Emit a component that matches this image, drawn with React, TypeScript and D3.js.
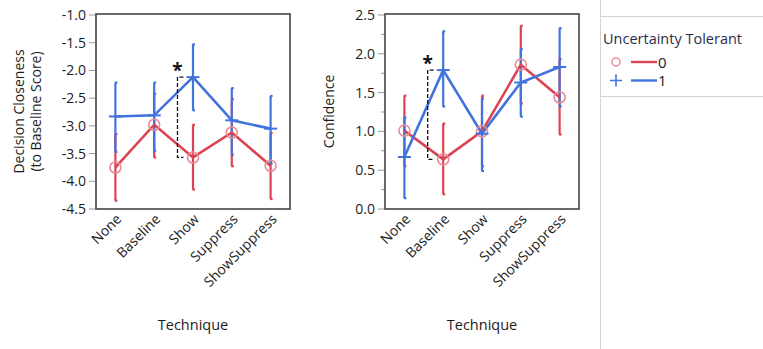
import React from "react";
import * as d3 from "d3";

// categories on the x axis
const techniques = ["None", "Baseline", "Show", "Suppress", "ShowSuppress"];

// Decision closeness (to baseline score), group 0 / group 1
const closenessMean0 = [-3.75, -2.98, -3.57, -3.12, -3.72];
const closenessLow0 = [-4.35, -3.57, -4.15, -3.73, -4.32];
const closenessHigh0 = [-3.15, -2.42, -2.98, -2.52, -3.13];
const closenessMean1 = [-2.83, -2.81, -2.12, -2.9, -3.05];
const closenessLow1 = [-3.47, -3.45, -2.72, -3.52, -3.68];
const closenessHigh1 = [-2.22, -2.22, -1.53, -2.32, -2.46];

// Confidence, group 0 / group 1
const confidenceMean0 = [1.01, 0.64, 1.0, 1.86, 1.44];
const confidenceLow0 = [0.55, 0.19, 0.55, 1.36, 0.96];
const confidenceHigh0 = [1.46, 1.1, 1.46, 2.36, 1.93];
const confidenceMean1 = [0.67, 1.79, 0.97, 1.63, 1.83];
const confidenceLow1 = [0.14, 1.32, 0.49, 1.19, 1.32];
const confidenceHigh1 = [1.18, 2.29, 1.42, 2.06, 2.33];

const closenessTicks = [-1.0, -1.5, -2.0, -2.5, -3.0, -3.5, -4.0, -4.5];
const confidenceTicks = [0.0, 0.5, 1.0, 1.5, 2.0, 2.5];
const confidenceMinor = [0.25, 0.75, 1.25, 1.75, 2.25];

const legendTitle = "Uncertainty Tolerant";
const groups = ["0", "1"];

const RED = "#dc4352";
const RED_LIGHT = "#ec8a93";
const BLUE = "#4173de";
const FONT = "'Open Sans', 'Noto Sans', sans-serif";
const TEXT = "#1c1c1c";

type Series = { mean: number[]; low: number[]; high: number[] };

function Panel({ left, domain, ticks, minor, titleLines, titleX, s0, s1, bracketIdx }: {
  left: number;
  domain: [number, number];
  ticks: number[];
  minor: number[];
  titleLines: string[];
  titleX: number;
  s0: Series;
  s1: Series;
  bracketIdx: number;
}) {
  const top = 14;
  const bottom = 209;
  const w = 194;

  const x = d3.scaleBand().domain(techniques).range([left, left + w]).padding(0);
  const y = d3.scaleLinear().domain(domain).range([bottom, top + 1]);
  const cx = (i: number) => (x(techniques[i]) as number) + x.bandwidth() / 2;

  const line = d3
    .line<number>()
    .x((_, i) => cx(i))
    .y((d) => y(d));

  const bars = (s: Series, color: string) =>
    s.mean.map((_, i) => {
      const xx = cx(i);
      return (
        <g key={i} stroke={color} strokeWidth={2.2}>
          <line x1={xx} x2={xx} y1={y(s.low[i])} y2={y(s.high[i])} />
          <line x1={xx - 0.5} x2={xx + 2} y1={y(s.low[i])} y2={y(s.low[i])} />
          <line x1={xx - 0.5} x2={xx + 2} y1={y(s.high[i])} y2={y(s.high[i])} />
        </g>
      );
    });

  const bx = cx(bracketIdx - 1) + x.bandwidth() * 0.6;
  const bTop = y(s1.mean[bracketIdx]);
  const bBot = y(s0.mean[bracketIdx]);
  const midY = (top + bottom) / 2;

  return (
    <g>
      {/* y title */}
      {titleLines.map((t, k) => (
        <text
          key={t}
          transform={`translate(${titleX + k * 17},${midY}) rotate(-90)`}
          textAnchor="middle"
          fontSize={14}
          fill={TEXT}
          fontFamily={FONT}
        >
          {t}
        </text>
      ))}

      {/* y ticks */}
      {ticks.map((t) => (
        <g key={t}>
          <line x1={left - 7} x2={left} y1={y(t)} y2={y(t)} stroke="#999" strokeWidth={1} />
          <text
            x={left - 10}
            y={y(t)}
            dy="0.36em"
            textAnchor="end"
            fontSize={14}
            fill={TEXT}
            fontFamily={FONT}
          >
            {t.toFixed(1)}
          </text>
        </g>
      ))}
      {minor.map((t) => (
        <line key={t} x1={left - 4} x2={left} y1={y(t)} y2={y(t)} stroke="#999" strokeWidth={1} />
      ))}

      {/* x labels */}
      {techniques.map((c, i) => (
        <text
          key={c}
          transform={`translate(${cx(i) + 7},${bottom + 11}) rotate(-45)`}
          textAnchor="end"
          fontSize={14}
          fill={TEXT}
          fontFamily={FONT}
        >
          {c}
        </text>
      ))}
      <text x={left + w / 2} y={330} textAnchor="middle" fontSize={14.5} fill={TEXT} fontFamily={FONT}>
        Technique
      </text>

      {/* error bars */}
      {bars(s0, RED)}
      {bars(s1, BLUE)}

      {/* lines */}
      <path d={line(s0.mean) ?? ""} fill="none" stroke={RED} strokeWidth={2.6} />
      <path d={line(s1.mean) ?? ""} fill="none" stroke={BLUE} strokeWidth={2.6} />

      {/* markers */}
      {s0.mean.map((v, i) => (
        <circle key={i} cx={cx(i)} cy={y(v)} r={5.5} fill="none" stroke={RED_LIGHT} strokeWidth={1.6} />
      ))}
      {s1.mean.map((v, i) => (
        <line key={i} x1={cx(i) - 6.5} x2={cx(i) + 6.5} y1={y(v)} y2={y(v)} stroke={BLUE} strokeWidth={2} />
      ))}

      {/* significance bracket */}
      <path
        d={`M${bx + 6},${bTop} H${bx} V${bBot} H${bx + 6}`}
        fill="none"
        stroke="#111"
        strokeWidth={1.3}
        strokeDasharray="4,2"
      />
      <text x={bx} y={bTop} textAnchor="middle" fontSize={19} fontWeight="bold" fill="#111" fontFamily={FONT}>
        *
      </text>

      {/* frame */}
      <rect x={left} y={top} width={w} height={bottom - top} fill="none" stroke="#444" strokeWidth={1.6} />
    </g>
  );
}

export default function App() {
  const width = 763;
  const height = 349;
  return (
    <svg
      width={width}
      height={height}
      style={{ position: "absolute", left: 0, top: 0, background: "#fff" }}
    >
      <Panel
        left={96}
        domain={[-4.5, -1.0]}
        ticks={closenessTicks}
        minor={[]}
        titleLines={["Decision Closeness", "(to Baseline Score)"]}
        titleX={24}
        s0={{ mean: closenessMean0, low: closenessLow0, high: closenessHigh0 }}
        s1={{ mean: closenessMean1, low: closenessLow1, high: closenessHigh1 }}
        bracketIdx={2}
      />
      <Panel
        left={385}
        domain={[0, 2.5]}
        ticks={confidenceTicks}
        minor={confidenceMinor}
        titleLines={["Confidence"]}
        titleX={334}
        s0={{ mean: confidenceMean0, low: confidenceLow0, high: confidenceHigh0 }}
        s1={{ mean: confidenceMean1, low: confidenceLow1, high: confidenceHigh1 }}
        bracketIdx={1}
      />

      {/* legend panel */}
      <line x1={600.5} x2={600.5} y1={0} y2={height} stroke="#d4d4d4" />
      <line x1={600} x2={width} y1={16.5} y2={16.5} stroke="#d4d4d4" />
      <line x1={600} x2={width} y1={96.5} y2={96.5} stroke="#d4d4d4" />
      <text x={603} y={44} fontSize={14.5} fill="#2c2c4a" fontFamily={FONT}>
        {legendTitle}
      </text>
      {groups.map((g, k) => {
        const ly = 62 + k * 18.5;
        const color = k === 0 ? RED : BLUE;
        return (
          <g key={g}>
            {k === 0 ? (
              <circle cx={616} cy={ly} r={4} fill="none" stroke={RED_LIGHT} strokeWidth={1.5} />
            ) : (
              <path d={`M610,${ly} H622 M616,${ly - 6} V${ly + 6}`} stroke={BLUE} strokeWidth={1.6} />
            )}
            <line x1={631} x2={657} y1={ly} y2={ly} stroke={color} strokeWidth={2.4} />
            <text x={658} y={ly} dy="0.38em" fontSize={15} fill={TEXT} fontFamily={FONT}>
              {g}
            </text>
          </g>
        );
      })}
    </svg>
  );
}
